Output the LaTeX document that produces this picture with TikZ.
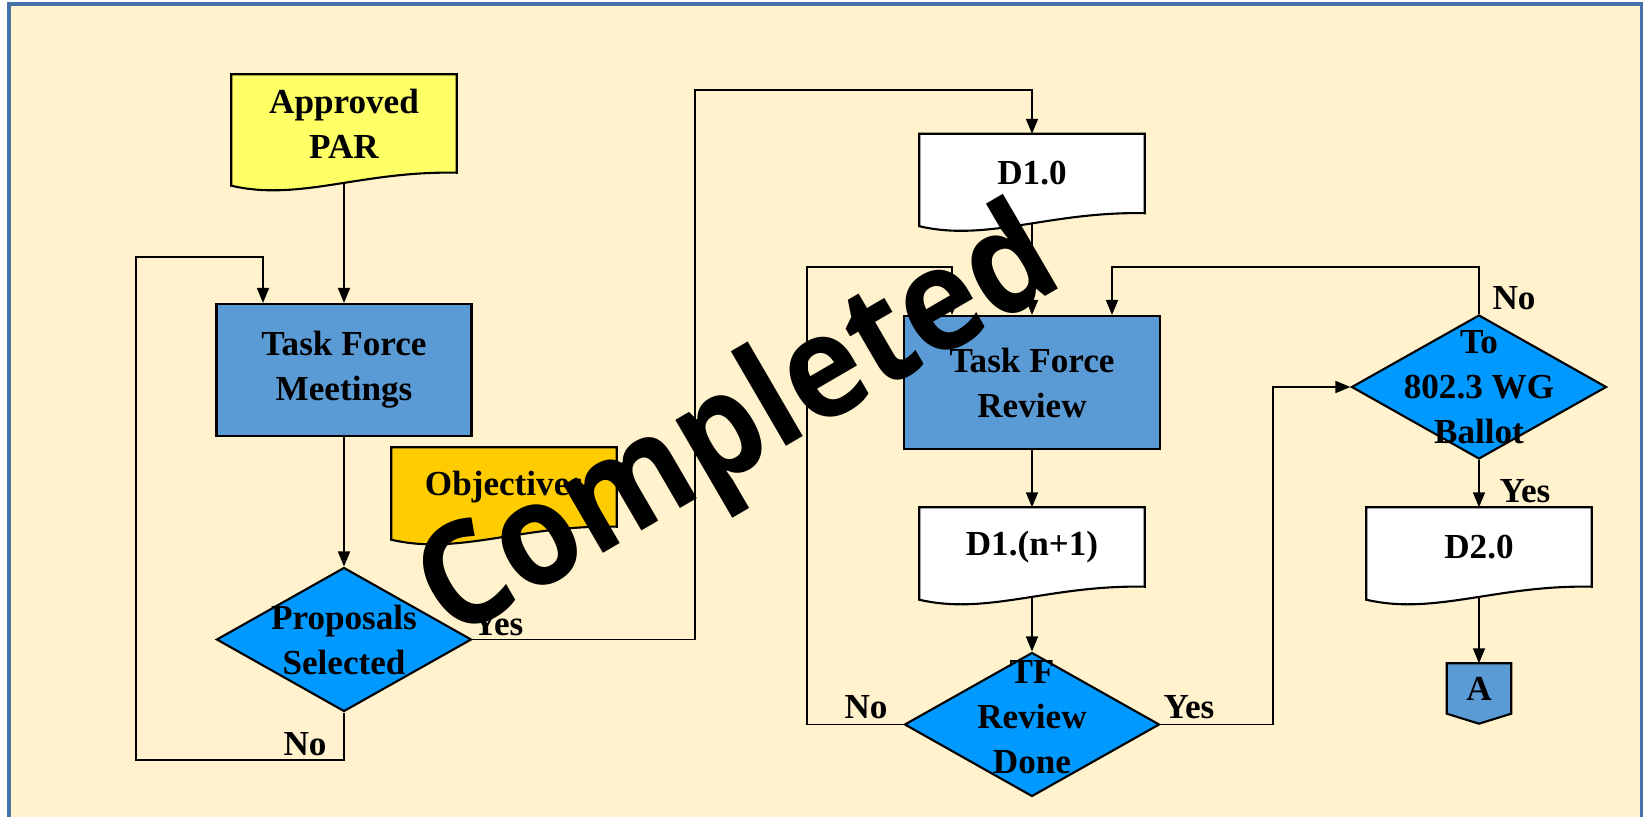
\documentclass[tikz,border=0pt]{standalone}
\usepackage{fontspec}
\setmainfont{Liberation Serif}
\newfontfamily\markfont{Open Sans}
\usetikzlibrary{arrows.meta,shapes.geometric,backgrounds}
\definecolor{cream}{RGB}{255,242,204}
\definecolor{frameblue}{RGB}{68,114,168}
\definecolor{taskblue}{RGB}{91,155,213}
\definecolor{askblue}{RGB}{0,153,255}
\definecolor{paryellow}{RGB}{255,255,102}
\definecolor{objorange}{RGB}{255,204,0}
\begin{document}
\begin{tikzpicture}[
  font=\bfseries\fontsize{10}{12.8}\selectfont,
  arr/.style={-{Triangle[length=1.5mm,width=1.2mm]}, line width=0.5pt},
  task/.style={rectangle, draw, line width=0.6pt, fill=taskblue, minimum width=2.55cm, minimum height=1.32cm, align=center},
  ask/.style={diamond, draw, line width=0.6pt, fill=askblue, minimum width=2.55cm, minimum height=1.44cm, inner sep=0pt},
  doc/.style={rectangle, minimum width=2.24cm, minimum height=0.78cm, inner sep=0pt, align=center},
  tag/.style={inner sep=0pt, align=center}
]
\useasboundingbox (0,0) rectangle (16.44,-8.17);
%blocchi sinistra
\node[doc, minimum height=0.97cm] (par) at (3.44,-1.235) {Approved\\PAR};
\node[task] (tfm) at (3.44,-3.70) {Task Force\\Meetings};
\node[doc] (obj) at (5.04,-4.87) {Objectives};
\node[ask, label={[tag]center:Proposals\\Selected}] (ps) at (3.44,-6.395) {};
%blocchi centro
\node[doc] (d10) at (10.32,-1.735) {D1.0};
\node[task, minimum width=2.56cm, minimum height=1.33cm] (tfr) at (10.32,-3.825) {Task Force\\Review};
\node[doc] (dn1) at (10.32,-5.47) {D1.(n+1)};
\node[ask, label={[tag,yshift=0.7mm]center:TF\\Review\\Done}] (tfrd) at (10.32,-7.245) {};
%blocchi destra
\node[ask, label={[tag]center:To\\802.3 WG\\Ballot}] (wg) at (14.79,-3.87) {};
\node[doc] (d20) at (14.79,-5.47) {D2.0};
\node[inner sep=0pt, minimum width=0.63cm, minimum height=0.49cm] (offA) at (14.79,-6.885) {A};
%sfondo e documenti
\begin{scope}[on background layer]
  \draw[line width=0.9pt, frameblue, fill=cream] (0.09,-8.40) -- (0.09,-0.04) -- (16.415,-0.04) -- (16.415,-8.40);
  \foreach \n/\c in {par/paryellow, obj/objorange, d10/white, dn1/white, d20/white}
    \draw[line width=0.6pt, fill=\c] (\n.north west) -- (\n.north east) -- (\n.south east)
      .. controls +(-0.95,0.02) and +(0.68,-0.16) .. ([yshift=-1.3mm]\n.south west) -- cycle;
  \draw[line width=0.6pt, fill=taskblue] (offA.north west) -- (offA.north east) -- (offA.south east)
    -- ([yshift=-1mm]offA.south) -- (offA.south west) -- cycle;
\end{scope}
%frecce
\draw[arr] ([yshift=-1mm]par.south) -- (tfm);
\draw[arr] (tfm) -- (ps);
\draw[arr] (ps.south) |- (1.36,-7.60) |- (2.63,-2.57) -- ([xshift=-0.81cm]tfm.north);
\draw[arr] (ps.east) -| (6.95,-0.90) -| (d10.north);
\draw[arr] ([yshift=-1mm]d10.south) -- (tfr);
\draw[arr] (tfr) -- (dn1);
\draw[arr] ([yshift=-1mm]dn1.south) -- (tfrd);
\draw[arr] (tfrd.west) -| (8.07,-2.67) -| ([xshift=-0.80cm]tfr.north);
\draw[arr] (tfrd.east) -| (12.73,-3.87) -- (wg.west);
\draw[arr] (wg.north) |- (11.12,-2.67) -- ([xshift=0.80cm]tfr.north);
\draw[arr] (wg) -- (d20);
\draw[arr] ([yshift=-1mm]d20.south) -- (offA);
%etichette
\node[tag] (no1) at (3.05,-7.44) {No};
\node[tag] (yes1) at (4.98,-6.24) {Yes};
\node[tag] (no2) at (8.66,-7.07) {No};
\node[tag] (yes2) at (11.89,-7.07) {Yes};
\node[tag] (no3) at (15.14,-2.98) {No};
\node[tag] (yes3) at (15.25,-4.91) {Yes};
%timbro
\node[rotate=30.2, xscale=0.91, font=\markfont\bfseries\fontsize{41}{41}\selectfont] (stamp) at (7.41,-4.30) {Completed};
\end{tikzpicture}
\end{document}
